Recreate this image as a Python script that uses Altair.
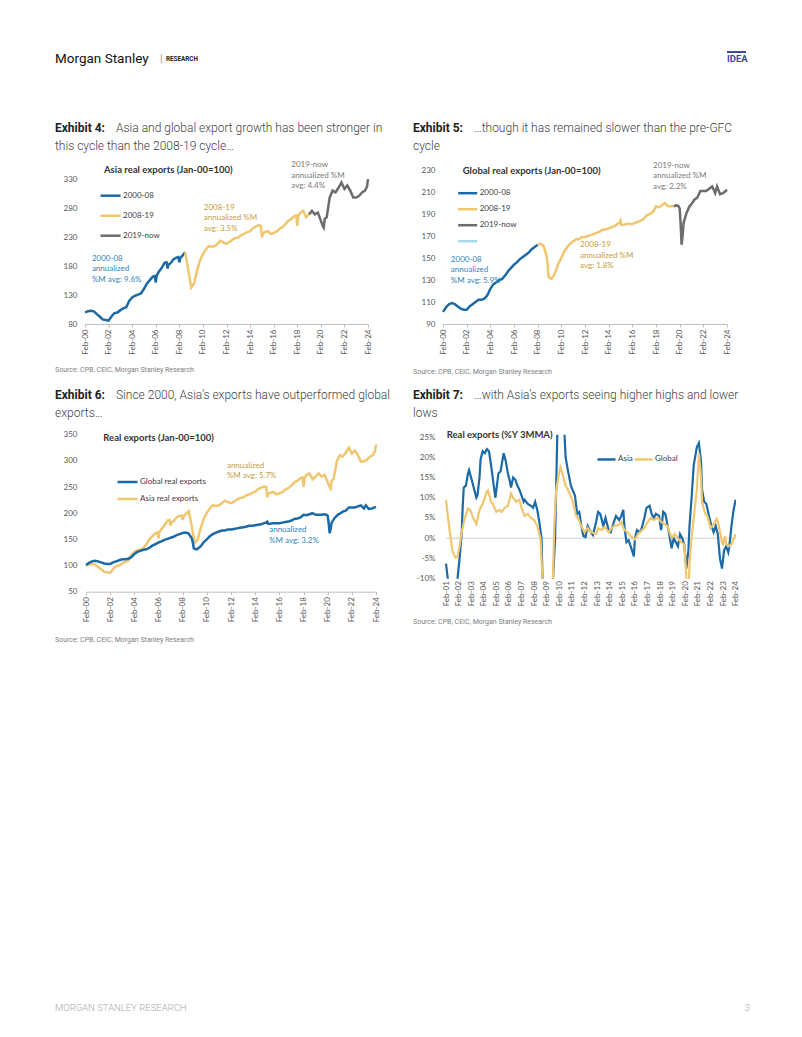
import altair as alt
import pandas as pd

# ---------------- data ----------------
asia_dates = ["2000-02","2000-05","2000-08","2000-11","2001-02","2001-05","2001-08","2001-11",
 "2002-02","2002-05","2002-08","2002-11","2003-02","2003-05","2003-08","2003-11",
 "2004-02","2004-05","2004-08","2004-11","2005-02","2005-05","2005-08","2005-11",
 "2006-01","2006-02","2006-03","2006-05","2006-08","2006-11",
 "2007-01","2007-02","2007-03","2007-05","2007-08","2007-11",
 "2008-01","2008-02","2008-03","2008-05","2008-08","2008-11",
 "2009-02","2009-05","2009-08","2009-11","2010-02","2010-05","2010-08","2010-11",
 "2011-02","2011-05","2011-08","2011-11","2012-02","2012-05","2012-08","2012-11",
 "2013-02","2013-05","2013-08","2013-11","2014-02","2014-05","2014-08","2014-11",
 "2015-01","2015-02","2015-03","2015-05","2015-08","2015-11",
 "2016-02","2016-05","2016-08","2016-11","2017-02","2017-05","2017-08","2017-11",
 "2018-01","2018-02","2018-03","2018-05","2018-08","2018-11",
 "2019-02","2019-05","2019-08","2019-11",
 "2020-02","2020-04","2020-05","2020-06","2020-08","2020-11",
 "2021-02","2021-05","2021-08","2021-11","2022-02","2022-05","2022-08","2022-11",
 "2023-02","2023-05","2023-08","2023-11","2024-01","2024-02"]
asia_vals = [100,102,103,102,97,93,88,87,
 86,93,99,100,104,107,109,120,
 126,129,131,133,141,150,156,162,
 163,152,164,170,177,186,
 187,176,183,185,192,195,
 196,187,194,198,204,175,
 143,150,172,190,201,209,215,214,
 215,219,224,221,219,222,226,229,
 230,234,236,239,241,246,249,251,
 250,230,237,239,241,236,
 238,240,245,248,253,259,262,267,
 268,250,266,273,276,265,
 270,276,270,273,
 259,250,247,262,265,299,
 311,308,316,325,314,320,311,299,
 299,302,308,311,318,331]

glob_dates = ["2000-02","2000-05","2000-08","2000-11","2001-02","2001-05","2001-08","2001-11",
 "2002-02","2002-05","2002-08","2002-11","2003-02","2003-05","2003-08","2003-11",
 "2004-02","2004-05","2004-08","2004-11","2005-02","2005-05","2005-08","2005-11",
 "2006-02","2006-05","2006-08","2006-11","2007-02","2007-05","2007-08","2007-11",
 "2008-02","2008-05","2008-08","2008-11","2008-12",
 "2009-01","2009-02","2009-04","2009-05","2009-08","2009-11",
 "2010-02","2010-05","2010-08","2010-11","2011-02","2011-05","2011-08","2011-11",
 "2012-02","2012-05","2012-08","2012-11","2013-02","2013-05","2013-08","2013-11",
 "2014-02","2014-05","2014-08","2014-11","2015-01","2015-02","2015-03","2015-05","2015-08","2015-11",
 "2016-02","2016-05","2016-08","2016-11","2017-02","2017-05","2017-08","2017-11",
 "2018-02","2018-05","2018-08","2018-11","2019-02","2019-05","2019-08","2019-11",
 "2020-01","2020-02","2020-03","2020-04","2020-05","2020-06","2020-09","2020-12",
 "2021-02","2021-05","2021-08","2021-11","2022-02","2022-05","2022-08","2022-11",
 "2023-02","2023-04","2023-07","2023-10","2024-02"]
glob_vals = [101,105,108,109,108,106,104,103,
 103,106,108,110,112,112,113,116,
 122,126,128,130,131,134,138,141,
 144,146,149,151,153,155,158,160,
 162,163,161,152,145,
 133,132,131,132,137,145,
 150,156,160,163,165,167,167,169,
 169,170,171,172,173,174,176,176,
 177,178,179,181,182,184,180,180,181,181,
 181,182,183,184,186,189,190,192,
 197,196,198,200,197,197,197,198,
 197,195,182,162,170,182,191,197,
 199,203,205,211,211,211,213,215,
 209,215,208,209,212]

asia_yoy_dates = ["2001-02","2001-04","2001-07","2001-10","2002-01","2002-03","2002-05","2002-06","2002-07","2002-09","2002-11","2002-12",
 "2003-03","2003-05","2003-07","2003-08","2003-10","2003-11","2004-01","2004-03","2004-05","2004-07","2004-09","2004-11",
 "2005-01","2005-02","2005-04","2005-06","2005-08","2005-09","2005-11","2006-01","2006-03","2006-04","2006-06","2006-08","2006-10","2006-12",
 "2007-02","2007-04","2007-05","2007-08","2007-11","2008-01","2008-03","2008-05","2008-07","2008-09","2008-10","2008-12",
 "2009-02","2009-04","2009-06","2009-08","2009-10","2009-12","2010-02","2010-04","2010-07","2010-08","2010-10",
 "2011-01","2011-05","2011-07","2011-09","2011-11","2012-01","2012-03","2012-05","2012-07","2012-10",
 "2013-01","2013-03","2013-05","2013-08","2013-10","2014-01","2014-03","2014-06","2014-08","2014-11",
 "2015-01","2015-03","2015-04","2015-06","2015-08","2015-10","2016-01","2016-02","2016-04","2016-06","2016-08","2016-11",
 "2017-01","2017-04","2017-06","2017-08","2017-10","2018-01","2018-03","2018-05","2018-07","2018-10",
 "2019-01","2019-03","2019-04","2019-07","2019-09","2019-11","2020-01","2020-03","2020-05","2020-06","2020-08","2020-10",
 "2021-01","2021-03","2021-05","2021-06","2021-08","2021-10","2022-01","2022-03","2022-05","2022-07","2022-09","2022-11",
 "2023-01","2023-03","2023-05","2023-07","2023-08","2023-10","2023-12","2024-02"]
asia_yoy_vals = [-6.3,-10.5,-18,-15,-10,-5,1,8,12.5,13,16,16.8,
 14,12,10,10.5,15,19.5,21.5,21,22,21.5,18,14,
 10,12,16,16.5,19.5,21,19,16,14,12.5,15,14.5,13,12,
 10.5,9,9.5,8.5,8,7.5,9,7,4,0,-10,-22,
 -28,-25,-20,-10,0,25,33,35,25.5,20,17,
 13,10.5,6,6.5,3,0.5,0.3,3,2,0.8,
 4,6.5,6,3,5,2,1.5,4,5.5,4.5,
 5.5,7,3,-1,-0.5,-2,-4.5,0,2,1.5,2,5,
 7.5,8,6,5,6,5.5,2,6.5,6,2,
 -2.5,0,-0.5,-2,1,0,-1.5,-7.5,-3,3,10,18,
 22.5,23.5,19,12,9,8.5,5,3,1.5,3,1,-5,
 -7.5,-3,-2,-3.5,-2,3,7,9.5]

glob_yoy_dates = ["2001-02","2001-04","2001-06","2001-08","2001-11","2002-01","2002-03","2002-05","2002-08","2002-11",
 "2003-01","2003-04","2003-07","2003-10","2004-01","2004-05","2004-06","2004-09","2004-11",
 "2005-02","2005-05","2005-07","2005-10","2006-01","2006-04","2006-06","2006-09","2006-12",
 "2007-02","2007-05","2007-08","2007-11","2008-02","2008-05","2008-08","2008-10","2008-12",
 "2009-02","2009-04","2009-06","2009-08","2009-09","2009-11","2010-01","2010-03","2010-05","2010-08","2010-12",
 "2011-03","2011-06","2011-08","2011-10","2012-02","2012-05","2012-08","2013-01","2013-03","2013-06","2013-09",
 "2014-01","2014-04","2014-06","2014-10","2015-01","2015-04","2015-07","2015-10","2016-02","2016-05","2016-07","2016-11",
 "2017-02","2017-05","2017-08","2017-12","2018-03","2018-06","2018-09","2019-01","2019-04","2019-07","2019-10",
 "2020-01","2020-02","2020-03","2020-05","2020-06","2020-08","2020-10","2021-01","2021-03","2021-05","2021-06","2021-09","2021-11",
 "2022-02","2022-04","2022-08","2022-10","2023-01","2023-02","2023-04","2023-05","2023-07","2023-10","2024-02"]
glob_yoy_vals = [9.5,5,1,-3,-4.8,-4.5,-2,1.5,5,7.3,
 7,5,3.5,7,8.5,11.5,11.8,9,8.3,
 6.5,7,6.5,7.5,8,11,10,9,9.5,
 7.5,5.5,6,5,4.5,3,0,-10,-18,
 -21,-19,-14,-10,2,12,15,17.5,16,13,11,
 9,5.5,5,3.5,1.5,2.5,1.5,1,2.5,2,2.8,
 1.5,2.5,3,3.2,4,2,1.5,0.5,-0.3,1,1.5,2.5,
 4,5,4.5,5,4,3.5,3,0,1,0,-1,
 -1.5,-5,-10,-15,-6,0,5,12,21,15,9,6,5.5,
 2.5,3,4.8,3,-1,-1.5,0.5,-1.5,-2,-1.5,1]

ex4_periods = ["2000-08", "2008-19", "2019-now"]
ex4_breaks = ["2008-08", "2019-02"]
ex5_periods = ["2000-08", "2008-19", "2019-now", "blank"]
ex5_breaks = ["2008-02", "2019-08"]

# ---------------- styles ----------------
BLUE = "#1b6aa7"
GOLD = "#f0c66e"
GRAY = "#6c6c6c"
LBLUE = "#a8d8ec"
TBLUE = "#2f86c0"
TGOLD = "#c99c3c"
TGRAY = "#7a7a7a"
CF = "Lato"
TF = "Roboto"
AX = "#595959"


def ds(s):
    return s.replace("-", "/") + "/01"


def split(dates, vals, breaks, names):
    rows = []
    for d, v in zip(dates, vals):
        if d <= breaks[0]:
            rows.append({"date": ds(d), "value": v, "period": names[0]})
        if breaks[0] <= d <= breaks[1]:
            rows.append({"date": ds(d), "value": v, "period": names[1]})
        if d >= breaks[1]:
            rows.append({"date": ds(d), "value": v, "period": names[2]})
    return pd.DataFrame(rows)


def series(dates, vals, name):
    return pd.DataFrame({"date": [ds(d) for d in dates], "value": vals, "series": name})


def DT(y, m=2):
    return alt.DateTime(year=y, month=m, date=1)


def xaxis(years, dom_line=True):
    return alt.Axis(values=[DT(y) for y in years], tickCount=60, format="%b-%y", labelAngle=-90,
                    labelFont=CF, labelFontSize=8, labelColor=AX, labelOverlap=False,
                    labelPadding=2, domain=dom_line, domainColor="#bfbfbf", ticks=dom_line,
                    tickColor="#bfbfbf", tickSize=3, grid=False, title=None)


def yaxis(vals, expr=None):
    kw = dict(values=vals, tickCount=40, domain=False, ticks=False, grid=False, labelFont=CF,
              labelFontSize=8, labelColor=AX, labelPadding=8, title=None, labelOverlap=False)
    if expr:
        kw["labelExpr"] = expr
    return alt.Axis(**kw)


def txt(s, x, y, size, color, font=CF, weight="normal", align="left", baseline="middle"):
    return alt.Chart(pd.DataFrame({"t": [s]})).mark_text(
        align=align, baseline=baseline, font=font, fontSize=size, fontWeight=weight, color=color
    ).encode(x=alt.value(x), y=alt.value(y), text="t:N")


def caption(num, rest, line2, y1, y2):
    return [txt("Exhibit %d:" % num, -30, y1, 12, "#222222", TF, "bold"),
            txt(rest, 31, y1, 12, "#3f3f3f", TF, 300),
            txt(line2, -30, y2, 12, "#3f3f3f", TF, 300)]


def source(y):
    return txt("Source: CPB, CEIC, Morgan Stanley Research", -30, y, 7, "#808080", TF)


def annot(date, value, text, color):
    df = pd.DataFrame({"date": [ds(date)], "value": [value], "t": [text]})
    return alt.Chart(df).mark_text(align="left", baseline="top", lineBreak="\n", lineHeight=10.5,
                                   font=CF, fontSize=8, color=color).encode(
        x="date:T", y="value:Q", text="t:N")


W = 293
years2 = list(range(2000, 2025, 2))

# ---------------- Exhibit 4 ----------------
d4 = split(asia_dates, asia_vals, ex4_breaks, ex4_periods)
x4 = alt.X("date:T", scale=alt.Scale(domain=[DT(2000), DT(2024)], range=[0, 283]), axis=xaxis(years2))
y4 = alt.Y("value:Q", scale=alt.Scale(domain=[80, 346.8], nice=False, zero=False),
           axis=yaxis([80, 130, 180, 230, 280, 330]))
lines4 = alt.Chart(d4).mark_line(strokeWidth=2.5).encode(
    x=x4, y=y4,
    color=alt.Color("period:N", scale=alt.Scale(domain=ex4_periods, range=[BLUE, GOLD, GRAY]),
                    legend=alt.Legend(orient="none", legendX=14, legendY=14.2, direction="vertical",
                                      symbolType="stroke", symbolSize=400, symbolStrokeWidth=2.5,
                                      labelFont=CF, labelFontSize=8, labelColor="#404040",
                                      labelOffset=1, rowPadding=3, title=None)),
    detail="period:N")
header = [
    alt.Chart(pd.DataFrame({"a": [0]})).mark_rule(strokeOpacity=0, strokeWidth=0).encode(
        x=alt.value(-30), x2=alt.value(600), y=alt.value(-121.3)),
    txt("Morgan Stanley", -30, -107.3, 13.5, "#111111", TF, "normal", baseline="alphabetic"),
    txt("|", 75, -107.8, 11, "#9a9a9a", TF, "normal", baseline="alphabetic"),
    txt("RESEARCH", 81, -109.3, 6.3, "#222222", TF, "bold", baseline="alphabetic"),
    txt("IDEA", 642, -108, 9.5, "#3a4a9f", TF, "bold", baseline="alphabetic"),
    alt.Chart(pd.DataFrame({"a": [0]})).mark_rule(color="#3a4a9f", strokeWidth=2).encode(
        x=alt.value(642), x2=alt.value(661), y=alt.value(-118)),
]
ex4 = alt.layer(
    lines4,
    annot("2000-09", 200, "2000-08\nannualized\n%M avg: 9.6%", TBLUE),
    annot("2010-03", 288, "2008-19\nannualized %M\navg: 3.5%", TGOLD),
    annot("2017-08", 361.7, "2019-now\nannualized %M\navg: 4.4%", TGRAY),
    txt("Asia real exports (Jan-00=100)", 19, -0.3, 9.5, "#333333", CF, "bold"),
    *caption(4, "Asia and global export growth has been stronger in", "this cycle than the 2008-19 cycle…", -42.3, -24.3),
    source(199.7),
    *header,
).properties(width=W, height=154)

# ---------------- Exhibit 5 ----------------
d5 = split(glob_dates, glob_vals, ex5_breaks, ex5_periods)
x5 = alt.X("date:T", scale=alt.Scale(domain=[DT(2000), DT(2024)], range=[0, 284]), axis=xaxis(years2))
y5 = alt.Y("value:Q", scale=alt.Scale(domain=[90, 230], nice=False, zero=False),
           axis=yaxis([90, 110, 130, 150, 170, 190, 210, 230]))
lines5 = alt.Chart(d5).mark_line(strokeWidth=2.5).encode(
    x=x5, y=y5,
    color=alt.Color("period:N", scale=alt.Scale(domain=ex5_periods, range=[BLUE, GOLD, GRAY, LBLUE]),
                    legend=alt.Legend(orient="none", legendX=13.7, legendY=12.2, direction="vertical",
                                      symbolType="stroke", symbolSize=361, symbolStrokeWidth=2.5,
                                      labelFont=CF, labelFontSize=8, labelColor="#404040",
                                      labelOffset=1, rowPadding=-3.6, title=None,
                                      labelExpr="datum.label == 'blank' ? '' : datum.label")),
    detail="period:N")
ex5 = alt.layer(
    lines5,
    annot("2000-10", 152.1, "2000-08\nannualized\n%M avg: 5.9%", TBLUE),
    annot("2011-09", 165.1, "2008-19\nannualized %M\navg: 1.8%", TGOLD),
    annot("2017-11", 237.5, "2019-now\nannualized %M\navg: 2.2%", TGRAY),
    txt("Global real exports (Jan-00=100)", 19.7, 0.7, 9.5, "#333333", CF, "bold"),
    *caption(5, "…though it has remained slower than the pre-GFC", "cycle", -42.3, -24.3),
    source(201.7),
).properties(width=W, height=154)

# ---------------- Exhibit 6 ----------------
d6 = pd.concat([series(glob_dates, glob_vals, "Global real exports"),
                series(asia_dates, asia_vals, "Asia real exports")])
x6 = alt.X("date:T", scale=alt.Scale(domain=[DT(2000), DT(2024)], range=[1, 291]), axis=xaxis(years2))
y6 = alt.Y("value:Q", scale=alt.Scale(domain=[50, 350], nice=False, zero=False),
           axis=yaxis([50, 100, 150, 200, 250, 300, 350]))
c6 = alt.Color("series:N", scale=alt.Scale(domain=["Global real exports", "Asia real exports"], range=[BLUE, GOLD]),
               legend=alt.Legend(orient="none", legendX=31, legendY=35.8, direction="vertical",
                                 symbolType="stroke", symbolSize=400, symbolStrokeWidth=2.5,
                                 labelFont=CF, labelFontSize=8, labelColor="#404040",
                                 labelOffset=1, rowPadding=-5.6, title=None))
l6a = alt.Chart(d6[d6.series == "Asia real exports"]).mark_line(strokeWidth=2.5).encode(x=x6, y=y6, color=c6)
l6g = alt.Chart(d6[d6.series == "Global real exports"]).mark_line(strokeWidth=2.5).encode(x=x6, y=y6, color=c6)
ex6 = alt.layer(
    l6a, l6g,
    annot("2011-10", 298.4, "annualized\n%M avg: 5.7%", TGOLD),
    annot("2015-04", 174.8, "annualized\n%M avg: 3.2%", TBLUE),
    txt("Real exports (Jan-00=100)", 18.3, 3, 9.5, "#333333", CF, "bold"),
    *caption(6, "Since 2000, Asia’s exports have outperformed global", "exports…", -40, -22),
    source(205),
    txt("MORGAN STANLEY RESEARCH", -30, 573, 9.5, "#ababab", TF, 300),
    txt("3", 665, 573, 9.5, "#ababab", TF, 300, align="right"),
).properties(width=W, height=157)

# ---------------- Exhibit 7 ----------------
d7a = series(asia_yoy_dates, asia_yoy_vals, "Asia")
d7g = series(glob_yoy_dates, glob_yoy_vals, "Global")
x7 = alt.X("date:T", scale=alt.Scale(domain=[DT(2001), DT(2024)], range=[3, 292.7]),
           axis=xaxis(list(range(2001, 2025)), dom_line=False))
y7 = alt.Y("value:Q", scale=alt.Scale(domain=[-10, 25.57], nice=False, zero=False),
           axis=yaxis([-10, -5, 0, 5, 10, 15, 20, 25], "datum.value + '%'"))
c7 = alt.Color("series:N", scale=alt.Scale(domain=["Asia", "Global"], range=[BLUE, GOLD]),
               legend=alt.Legend(orient="none", legendX=153, legendY=14, direction="horizontal",
                                 symbolType="stroke", symbolSize=324, symbolStrokeWidth=2.5,
                                 labelFont=CF, labelFontSize=8, labelColor="#404040",
                                 labelOffset=1, columnPadding=-6, title=None))
zero7 = alt.Chart(pd.DataFrame({"v": [0]})).mark_rule(color="#d0d0d0", strokeWidth=1).encode(
    y=alt.Y("v:Q", scale=alt.Scale(domain=[-10, 25.57], nice=False, zero=False)),
    x=alt.datum(DT(2001)), x2=alt.datum(DT(2024)))
l7a = alt.Chart(d7a).mark_line(strokeWidth=2.2, clip=True).encode(x=x7, y=y7, color=c7)
l7g = alt.Chart(d7g).mark_line(strokeWidth=2.2, clip=True).encode(x=x7, y=y7, color=c7)
ex7 = alt.layer(
    zero7, l7a, l7g,
    txt("Real exports (%Y 3MMA)", 3.7, 0.3, 9.5, "#333333", CF, "bold"),
    *caption(7, "…with Asia’s exports seeing higher highs and lower", "lows", -40, -22),
    source(187),
).properties(width=W, height=144)

chart = alt.concat(ex4, ex5, ex6, ex7, columns=2,
                   spacing={"row": 110.7, "column": 65}, bounds="flush").properties(
    padding={"left": 47, "top": 40, "right": 8, "bottom": 8}
).configure_view(strokeWidth=0).configure_axis(labelOverlap=False, labelBound=False).resolve_scale(color="independent")

chart.save("out.html", embed_options={"renderer": "svg", "actions": False})
